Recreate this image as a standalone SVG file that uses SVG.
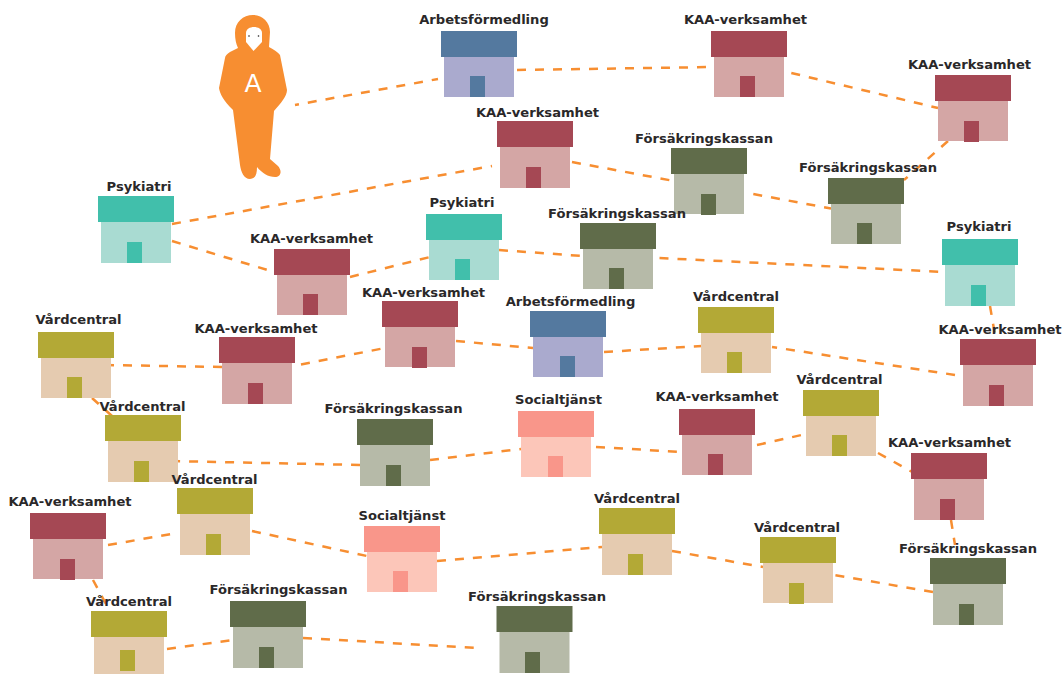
<svg xmlns="http://www.w3.org/2000/svg" width="1063" height="674" viewBox="0 0 1063 674">
<style>
text{font-family:"DejaVu Sans",sans-serif;font-weight:700;font-size:13.1px;fill:#2a2829;text-anchor:middle}
.c path{fill:none;stroke:#f78e31;stroke-width:2.5;stroke-dasharray:9 9}
.ka .r,.ka .d{fill:#a54854}.ka .b{fill:#d4a6a5}
.fk .r,.fk .d{fill:#606c4a}.fk .b{fill:#b6baa8}
.ps .r,.ps .d{fill:#41bfab}.ps .b{fill:#a9dbd2}
.vc .r,.vc .d{fill:#b3a936}.vc .b{fill:#e5cbb0}
.af .r,.af .d{fill:#54799f}.af .b{fill:#aaaace}
.so .r,.so .d{fill:#f9968a}.so .b{fill:#fcc6b9}
</style>
<g id="connectors" class="c">
<path style="stroke-dashoffset:5" d="M295 105L438 79"/><path d="M517 70L714 67"/><path d="M791.3 73L938 108"/><path d="M948 141L904 180"/>
<path d="M753.3 194L831 208.5"/><path d="M572 162L674 181"/><path d="M172 224L492 166"/><path d="M172 241L274 272"/>
<path d="M350 277L430 257"/><path d="M499 250L583 256"/><path d="M659.5 258L945 272"/><path d="M990 306L995 335"/>
<path d="M955 375L772 347"/><path d="M604 352L702 346"/><path d="M456 341L533 348"/><path d="M301 364.5L385 348"/>
<path d="M105 365L222 367"/><path d="M92 398L112 416"/><path d="M171.1 461L360 465"/><path d="M430 460L521 449"/>
<path d="M596 447L682 452"/><path d="M757 445L806 434"/><path d="M878 453L914 473"/><path d="M951 520L955 545"/>
<path d="M933 592L834 575"/><path d="M672 551L763 567"/><path d="M437 561L602 547"/><path d="M252 531L367 556"/>
<path d="M108 545L177 533"/><path d="M93 580L107 606"/><path d="M167 649L233 640"/><path d="M303 638L478 648"/>
</g>
<g id="person">
<path fill="#f78e31" d="M253 15C243 15 235 22 235 33C235 39 236 44 238 48L230 52C227 54 225 56 225 58L219 88C220 94 223 100 233 110L240 165C241 172 244 179 250 179C255 179 257 175 257 167C262 173 268 177 275 177C280 177 283 172 278 166L270 159L274 111C281 103 287 96 287 90L280 55C278 52 274 50 269 47L270 32C270 22 262 15 253 15Z"/>
<path fill="#fff" d="M246 33C246 29 250 27 254 27C258 27 262 29 262 33L262 42L253.5 51L246 42Z"/>
<circle cx="249" cy="36" r=".8" fill="#231f20"/><circle cx="258.5" cy="36" r=".8" fill="#231f20"/>
<text x="253" y="92" style="font-weight:400;font-size:25px;fill:#fff">A</text>
</g>
<g id="n1" class="af" transform="translate(441 31)"><text x="43" y="-7">Arbetsförmedling</text><rect class="r" width="76" height="26"/><rect class="b" x="3" y="26" width="70" height="40"/><rect class="d" x="29" y="45" width="15" height="21"/></g>
<g id="n2" class="ka" transform="translate(711 31)"><text x="34.5" y="-7">KAA-verksamhet</text><rect class="r" width="76" height="26"/><rect class="b" x="3" y="26" width="70" height="40"/><rect class="d" x="29" y="45" width="15" height="21"/></g>
<g id="n3" class="ka" transform="translate(935 75)"><text x="34.5" y="-6.5">KAA-verksamhet</text><rect class="r" width="76" height="26"/><rect class="b" x="3" y="26" width="70" height="40"/><rect class="d" x="29" y="46" width="15" height="21"/></g>
<g id="n4" class="ka" transform="translate(497 121)"><text x="40.5" y="-4">KAA-verksamhet</text><rect class="r" width="76" height="26"/><rect class="b" x="3" y="26" width="70" height="41"/><rect class="d" x="29" y="46" width="15" height="21"/></g>
<g id="n5" class="fk" transform="translate(671 148)"><text x="33" y="-5">Försäkringskassan</text><rect class="r" width="76" height="26"/><rect class="b" x="3" y="26" width="70" height="40"/><rect class="d" x="30" y="46" width="15" height="21"/></g>
<g id="n6" class="fk" transform="translate(828 178)"><text x="40" y="-6">Försäkringskassan</text><rect class="r" width="76" height="26"/><rect class="b" x="3" y="26" width="70" height="40"/><rect class="d" x="29" y="45" width="15" height="21"/></g>
<g id="n7" class="ps" transform="translate(98 196)"><text x="41" y="-5">Psykiatri</text><rect class="r" width="76" height="26"/><rect class="b" x="3" y="26" width="70" height="41"/><rect class="d" x="29" y="46" width="15" height="21"/></g>
<g id="n8" class="ps" transform="translate(426 214)"><text x="36" y="-7">Psykiatri</text><rect class="r" width="76" height="26"/><rect class="b" x="3" y="26" width="70" height="40"/><rect class="d" x="29" y="45" width="15" height="21"/></g>
<g id="n9" class="fk" transform="translate(580 223)"><text x="37" y="-5">Försäkringskassan</text><rect class="r" width="76" height="26"/><rect class="b" x="3" y="26" width="70" height="40"/><rect class="d" x="29" y="45" width="15" height="21"/></g>
<g id="n10" class="ps" transform="translate(942 239)"><text x="37" y="-8">Psykiatri</text><rect class="r" width="76" height="26"/><rect class="b" x="3" y="26" width="70" height="41"/><rect class="d" x="29" y="46" width="15" height="21"/></g>
<g id="n11" class="ka" transform="translate(274 249)"><text x="37.5" y="-6">KAA-verksamhet</text><rect class="r" width="76" height="26"/><rect class="b" x="3" y="26" width="70" height="40"/><rect class="d" x="29" y="45" width="15" height="21"/></g>
<g id="n12" class="ka" transform="translate(382 301)"><text x="41.5" y="-4">KAA-verksamhet</text><rect class="r" width="76" height="26"/><rect class="b" x="3" y="26" width="70" height="40"/><rect class="d" x="30" y="46" width="15" height="21"/></g>
<g id="n13" class="af" transform="translate(530 311)"><text x="40.5" y="-5">Arbetsförmedling</text><rect class="r" width="76" height="26"/><rect class="b" x="3" y="26" width="70" height="40"/><rect class="d" x="30" y="45" width="15" height="21"/></g>
<g id="n14" class="vc" transform="translate(698 307)"><text x="38" y="-6">Vårdcentral</text><rect class="r" width="76" height="26"/><rect class="b" x="3" y="26" width="70" height="40"/><rect class="d" x="29" y="45" width="15" height="21"/></g>
<g id="n15" class="ka" transform="translate(960 339)"><text x="40" y="-5">KAA-verksamhet</text><rect class="r" width="76" height="26"/><rect class="b" x="3" y="26" width="70" height="41"/><rect class="d" x="29" y="46" width="15" height="21"/></g>
<g id="n16" class="vc" transform="translate(38 332)"><text x="40.5" y="-8">Vårdcentral</text><rect class="r" width="76" height="26"/><rect class="b" x="3" y="26" width="70" height="40"/><rect class="d" x="29" y="45" width="15" height="21"/></g>
<g id="n17" class="ka" transform="translate(219 337)"><text x="37" y="-4">KAA-verksamhet</text><rect class="r" width="76" height="26"/><rect class="b" x="3" y="26" width="70" height="41"/><rect class="d" x="29" y="46" width="15" height="21"/></g>
<g id="n18" class="vc" transform="translate(105 415)"><text x="37.5" y="-4">Vårdcentral</text><rect class="r" width="76" height="26"/><rect class="b" x="3" y="26" width="70" height="41"/><rect class="d" x="29" y="46" width="15" height="21"/></g>
<g id="n19" class="fk" transform="translate(357 419)"><text x="36.5" y="-6">Försäkringskassan</text><rect class="r" width="76" height="26"/><rect class="b" x="3" y="26" width="70" height="41"/><rect class="d" x="29" y="46" width="15" height="21"/></g>
<g id="n20" class="so" transform="translate(518 411)"><text x="40.5" y="-7">Socialtjänst</text><rect class="r" width="76" height="26"/><rect class="b" x="3" y="26" width="70" height="40"/><rect class="d" x="30" y="45" width="15" height="21"/></g>
<g id="n21" class="ka" transform="translate(679 409)"><text x="38" y="-8">KAA-verksamhet</text><rect class="r" width="76" height="26"/><rect class="b" x="3" y="26" width="70" height="40"/><rect class="d" x="29" y="45" width="15" height="21"/></g>
<g id="n22" class="vc" transform="translate(803 390)"><text x="36.5" y="-6">Vårdcentral</text><rect class="r" width="76" height="26"/><rect class="b" x="3" y="26" width="70" height="40"/><rect class="d" x="29" y="45" width="15" height="21"/></g>
<g id="n23" class="ka" transform="translate(911 453)"><text x="38.5" y="-6">KAA-verksamhet</text><rect class="r" width="76" height="26"/><rect class="b" x="3" y="26" width="70" height="41"/><rect class="d" x="29" y="46" width="15" height="21"/></g>
<g id="n24" class="vc" transform="translate(177 488)"><text x="37.5" y="-4">Vårdcentral</text><rect class="r" width="76" height="26"/><rect class="b" x="3" y="26" width="70" height="41"/><rect class="d" x="29" y="46" width="15" height="21"/></g>
<g id="n25" class="ka" transform="translate(30 513)"><text x="40" y="-7">KAA-verksamhet</text><rect class="r" width="76" height="26"/><rect class="b" x="3" y="26" width="70" height="40"/><rect class="d" x="30" y="46" width="15" height="21"/></g>
<g id="n26" class="so" transform="translate(364 526)"><text x="38" y="-6">Socialtjänst</text><rect class="r" width="76" height="26"/><rect class="b" x="3" y="26" width="70" height="40"/><rect class="d" x="29" y="45" width="15" height="21"/></g>
<g id="n27" class="vc" transform="translate(599 508)"><text x="38" y="-5">Vårdcentral</text><rect class="r" width="76" height="26"/><rect class="b" x="3" y="26" width="70" height="41"/><rect class="d" x="29" y="46" width="15" height="21"/></g>
<g id="n28" class="vc" transform="translate(760 537)"><text x="37" y="-5">Vårdcentral</text><rect class="r" width="76" height="26"/><rect class="b" x="3" y="26" width="70" height="40"/><rect class="d" x="29" y="46" width="15" height="21"/></g>
<g id="n29" class="fk" transform="translate(930 558)"><text x="38" y="-5">Försäkringskassan</text><rect class="r" width="76" height="26"/><rect class="b" x="3" y="26" width="70" height="41"/><rect class="d" x="29" y="46" width="15" height="21"/></g>
<g id="n30" class="vc" transform="translate(91 611)"><text x="38" y="-5">Vårdcentral</text><rect class="r" width="76" height="26"/><rect class="b" x="3" y="26" width="70" height="40"/><rect class="d" x="29" y="39" width="15" height="21"/></g>
<g id="n31" class="fk" transform="translate(230 601)"><text x="48.5" y="-7">Försäkringskassan</text><rect class="r" width="76" height="26"/><rect class="b" x="3" y="26" width="70" height="41"/><rect class="d" x="29" y="46" width="15" height="21"/></g>
<g id="n32" class="fk" transform="translate(496.5 606)"><text x="40.5" y="-5">Försäkringskassan</text><rect class="r" width="76" height="26"/><rect class="b" x="3" y="26" width="70" height="41"/><rect class="d" x="28.5" y="46" width="15" height="21"/></g>
</svg>
